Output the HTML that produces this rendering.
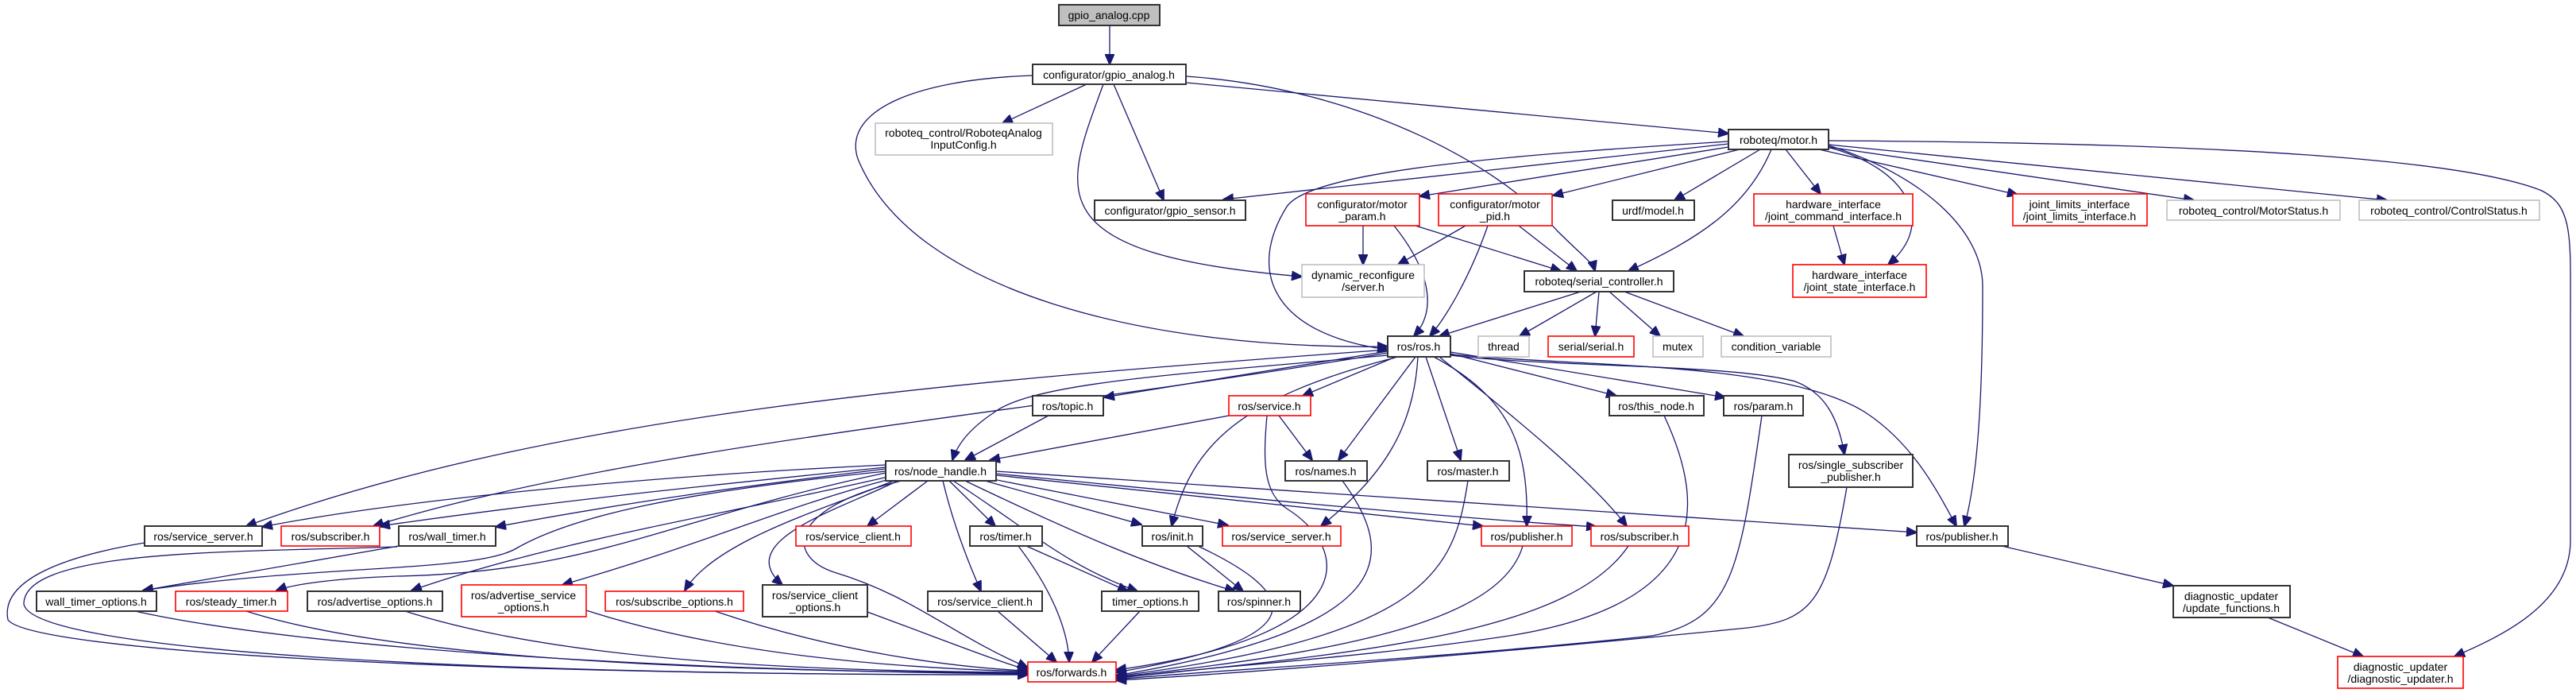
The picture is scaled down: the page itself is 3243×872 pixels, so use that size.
<!DOCTYPE html>
<html><head><meta charset="utf-8"><style>
html,body{margin:0;padding:0;background:#fff}
svg{display:block}
text{font-family:"Liberation Sans",sans-serif;font-size:14px;fill:#000;text-anchor:middle}
.b{fill:#fff;stroke:#333;stroke-width:2}
.r{fill:#fff;stroke:#f00;stroke-width:1.6}
.g{fill:#fff;stroke:#bfbfbf;stroke-width:1.6}
.e path{fill:none;stroke:#191970;stroke-width:1.3;marker-end:url(#ah)}
</style></head><body>
<svg width="3243" height="872" viewBox="0 0 3243 872" xmlns="http://www.w3.org/2000/svg">
<defs><marker id="ah" markerUnits="userSpaceOnUse" markerWidth="14" markerHeight="12" viewBox="0 0 14 12" refX="13" refY="6" orient="auto"><path d="M0,0 L14,6 L0,12 z" fill="#191970" stroke="#191970"/></marker></defs>
<g class="e">
<path d="M1397,32 L1397,81"/>
<path d="M1368,106 L1262,155"/>
<path d="M1402,106 L1465,252"/>
<path d="M1389,106 C1340,240 1300,320 1639,348"/>
<path d="M1300,95 C1150,100 1060,140 1080,200 C1150,370 1450,440 1747,436"/>
<path d="M1493,96 C1700,110 1880,200 1960,290 C1990,320 2005,330 2008,341"/>
<path d="M1493,104 L2176,168"/>
<path d="M2176,181 L1540,251"/>
<path d="M2176,185 L1787,247"/>
<path d="M2190,188 L1955,246"/>
<path d="M2216,188 L2108,252"/>
<path d="M2176,178 C1900,195 1650,215 1620,260 C1570,340 1600,420 1747,440"/>
<path d="M2230,188 C2200,260 2140,300 2050,341"/>
<path d="M2248,188 L2292,244"/>
<path d="M2300,185 C2400,210 2440,280 2377,333"/>
<path d="M2290,188 L2540,245"/>
<path d="M2302,185 L2762,252"/>
<path d="M2302,182 L3005,252"/>
<path d="M2302,183 C2420,220 2496,290 2496,360 C2496,500 2490,600 2473,662"/>
<path d="M2302,177 C2800,180 3100,200 3200,240 C3240,260 3236,300 3236,400 L3236,680 C3236,760 3150,800 3090,826"/>
<path d="M1716,284 L1716,333"/>
<path d="M1782,284 L1965,341"/>
<path d="M1755,284 C1800,340 1810,390 1780,423"/>
<path d="M1845,284 L1760,333"/>
<path d="M1912,284 L1985,341"/>
<path d="M1873,284 C1850,350 1820,400 1800,423"/>
<path d="M2308,284 L2322,333"/>
<path d="M1990,367 L1812,423"/>
<path d="M2010,367 L1913,423"/>
<path d="M2013,367 L2008,423"/>
<path d="M2026,367 L2090,423"/>
<path d="M2045,367 L2195,423"/>
<path d="M1747,440 C1200,480 700,520 310,662"/>
<path d="M1747,444 C1300,520 800,560 470,662"/>
<path d="M1747,447 C1500,470 1300,480 1250,520 C1220,540 1205,560 1199,579"/>
<path d="M1747,442 L1390,500"/>
<path d="M1320,523 L1215,579"/>
<path d="M1757,449 L1640,498"/>
<path d="M1547,523 L1246,579"/>
<path d="M1610,523 L1652,579"/>
<path d="M1595,523 C1590,580 1590,620 1620,640 C1700,690 1720,800 1405,843"/>
<path d="M1782,449 L1685,579"/>
<path d="M1760,449 C1560,500 1500,560 1475,662"/>
<path d="M1785,449 C1780,540 1740,600 1663,662"/>
<path d="M1795,449 L1839,579"/>
<path d="M1805,449 C1900,500 1925,560 1922,662"/>
<path d="M1812,449 C1900,520 2000,600 2048,662"/>
<path d="M1826,445 L2035,498"/>
<path d="M1826,443 L2172,500"/>
<path d="M1826,447 C1950,462 2180,458 2260,480 C2300,495 2315,530 2322,572"/>
<path d="M1826,446 C2000,462 2250,455 2350,520 C2410,560 2440,620 2463,662"/>
<path d="M1115,585 C800,600 500,630 330,663"/>
<path d="M1115,588 C900,610 700,630 478,662"/>
<path d="M1115,590 C950,610 800,630 624,663"/>
<path d="M1115,593 C850,620 720,650 650,690 C600,720 400,710 180,743"/>
<path d="M502,687 L180,743"/>
<path d="M1115,595 C850,650 750,720 500,725 C420,728 370,735 348,743"/>
<path d="M1118,600 C900,650 700,680 518,743"/>
<path d="M1120,603 C980,640 900,680 708,736"/>
<path d="M1125,605 C1040,640 900,680 862,743"/>
<path d="M1130,605 C1060,640 920,680 985,736"/>
<path d="M1135,605 C990,640 990,700 1050,720 C1150,750 1200,800 1294,840"/>
<path d="M1168,605 L1092,662"/>
<path d="M1187,605 C1200,660 1220,710 1235,744"/>
<path d="M1195,605 L1253,662"/>
<path d="M1200,605 C1300,670 1340,710 1432,744"/>
<path d="M1215,605 C1330,660 1440,710 1555,744"/>
<path d="M1240,605 L1437,660"/>
<path d="M1250,603 L1546,661"/>
<path d="M1254,598 L1867,662"/>
<path d="M1254,596 C1500,620 1800,650 2010,663"/>
<path d="M1254,593 L2413,670"/>
<path d="M1292,687 L1420,744"/>
<path d="M1282,687 C1330,750 1345,800 1346,833"/>
<path d="M1494,687 L1565,744"/>
<path d="M1508,687 C1620,740 1680,800 1405,846"/>
<path d="M1256,769 L1330,833"/>
<path d="M1435,769 L1375,833"/>
<path d="M170,769 C400,820 900,845 1294,848"/>
<path d="M310,769 C500,830 900,845 1294,847"/>
<path d="M510,769 C700,830 1000,845 1294,846"/>
<path d="M738,768 C900,820 1100,840 1294,845"/>
<path d="M900,769 C1050,820 1200,840 1294,844"/>
<path d="M1092,770 C1200,810 1250,830 1294,843"/>
<path d="M182,683 C80,700 0,730 10,780 C40,820 600,850 1294,849"/>
<path d="M500,688 C300,695 30,690 30,760 C40,820 600,850 1294,849"/>
<path d="M1690,605 C1760,700 1760,790 1405,850"/>
<path d="M1848,605 C1830,720 1800,800 1405,851"/>
<path d="M1917,687 C1890,780 1700,820 1405,852"/>
<path d="M2050,687 C1980,790 1750,820 1405,853"/>
<path d="M2095,523 C2150,640 2150,760 1900,800 C1700,830 1500,840 1405,854"/>
<path d="M2218,523 C2190,720 2180,780 2080,800 C1800,830 1500,845 1405,855"/>
<path d="M2325,613 C2300,760 2280,780 2200,790 C1900,820 1600,845 1405,856"/>
<path d="M2520,687 L2736,737"/>
<path d="M2855,777 L2975,826"/>
</g>
<g>
<rect x="1333" y="6" width="127" height="26" fill="#bfbfbf" stroke="#333" stroke-width="2"/><text x="1396" y="24">gpio_analog.cpp</text>
<rect class="b" x="1300" y="81" width="193" height="25"/><text x="1396" y="99">configurator/gpio_analog.h</text>
<rect class="g" x="1102" y="155" width="223" height="40"/><text x="1213" y="172">roboteq_control/RoboteqAnalog</text><text x="1213" y="187">InputConfig.h</text>
<rect class="b" x="1378" y="252" width="190" height="25"/><text x="1473" y="270">configurator/gpio_sensor.h</text>
<rect class="r" x="1644" y="244" width="143" height="40"/><text x="1715" y="262">configurator/motor</text><text x="1715" y="277">_param.h</text>
<rect class="r" x="1811" y="244" width="143" height="40"/><text x="1882" y="262">configurator/motor</text><text x="1882" y="277">_pid.h</text>
<rect class="b" x="2030" y="252" width="103" height="25"/><text x="2081" y="270">urdf/model.h</text>
<rect class="g" x="1639" y="333" width="154" height="41"/><text x="1716" y="351">dynamic_reconfigure</text><text x="1716" y="366">/server.h</text>
<rect class="b" x="1919" y="341" width="188" height="26"/><text x="2013" y="359">roboteq/serial_controller.h</text>
<rect class="b" x="2176" y="163" width="126" height="25"/><text x="2239" y="181">roboteq/motor.h</text>
<rect class="r" x="2208" y="244" width="200" height="40"/><text x="2308" y="262">hardware_interface</text><text x="2308" y="277">/joint_command_interface.h</text>
<rect class="r" x="2257" y="333" width="168" height="41"/><text x="2341" y="351">hardware_interface</text><text x="2341" y="366">/joint_state_interface.h</text>
<rect class="r" x="2534" y="244" width="169" height="40"/><text x="2618" y="262">joint_limits_interface</text><text x="2618" y="277">/joint_limits_interface.h</text>
<rect class="g" x="2728" y="252" width="218" height="25"/><text x="2837" y="270">roboteq_control/MotorStatus.h</text>
<rect class="g" x="2970" y="252" width="227" height="25"/><text x="3083" y="270">roboteq_control/ControlStatus.h</text>
<rect class="b" x="1747" y="423" width="79" height="26"/><text x="1786" y="441">ros/ros.h</text>
<rect class="g" x="1861" y="423" width="64" height="26"/><text x="1893" y="441">thread</text>
<rect class="r" x="1949" y="423" width="108" height="26"/><text x="2003" y="441">serial/serial.h</text>
<rect class="g" x="2081" y="423" width="63" height="26"/><text x="2112" y="441">mutex</text>
<rect class="g" x="2167" y="423" width="138" height="26"/><text x="2236" y="441">condition_variable</text>
<rect class="b" x="1300" y="498" width="89" height="25"/><text x="1344" y="516">ros/topic.h</text>
<rect class="r" x="1547" y="498" width="103" height="25"/><text x="1598" y="516">ros/service.h</text>
<rect class="b" x="2026" y="498" width="119" height="25"/><text x="2085" y="516">ros/this_node.h</text>
<rect class="b" x="2170" y="498" width="100" height="25"/><text x="2220" y="516">ros/param.h</text>
<rect class="b" x="1115" y="580" width="139" height="25"/><text x="1184" y="598">ros/node_handle.h</text>
<rect class="b" x="1618" y="580" width="103" height="25"/><text x="1669" y="598">ros/names.h</text>
<rect class="b" x="1797" y="580" width="103" height="25"/><text x="1848" y="598">ros/master.h</text>
<rect class="b" x="2252" y="572" width="156" height="41"/><text x="2330" y="590">ros/single_subscriber</text><text x="2330" y="605">_publisher.h</text>
<rect class="b" x="182" y="662" width="148" height="25"/><text x="256" y="680">ros/service_server.h</text>
<rect class="r" x="354" y="662" width="124" height="25"/><text x="416" y="680">ros/subscriber.h</text>
<rect class="b" x="502" y="662" width="122" height="25"/><text x="563" y="680">ros/wall_timer.h</text>
<rect class="r" x="1002" y="662" width="145" height="25"/><text x="1074" y="680">ros/service_client.h</text>
<rect class="b" x="1221" y="662" width="91" height="25"/><text x="1266" y="680">ros/timer.h</text>
<rect class="b" x="1438" y="662" width="76" height="25"/><text x="1476" y="680">ros/init.h</text>
<rect class="r" x="1539" y="662" width="149" height="25"/><text x="1613" y="680">ros/service_server.h</text>
<rect class="r" x="1865" y="662" width="114" height="25"/><text x="1922" y="680">ros/publisher.h</text>
<rect class="r" x="2003" y="662" width="123" height="25"/><text x="2064" y="680">ros/subscriber.h</text>
<rect class="b" x="2413" y="662" width="115" height="25"/><text x="2470" y="680">ros/publisher.h</text>
<rect class="b" x="46" y="744" width="151" height="25"/><text x="121" y="762">wall_timer_options.h</text>
<rect class="r" x="221" y="744" width="141" height="25"/><text x="291" y="762">ros/steady_timer.h</text>
<rect class="b" x="387" y="744" width="170" height="25"/><text x="472" y="762">ros/advertise_options.h</text>
<rect class="r" x="581" y="736" width="157" height="40"/><text x="659" y="754">ros/advertise_service</text><text x="659" y="769">_options.h</text>
<rect class="r" x="762" y="744" width="174" height="25"/><text x="849" y="762">ros/subscribe_options.h</text>
<rect class="b" x="960" y="736" width="132" height="40"/><text x="1026" y="754">ros/service_client</text><text x="1026" y="769">_options.h</text>
<rect class="b" x="1168" y="744" width="144" height="25"/><text x="1240" y="762">ros/service_client.h</text>
<rect class="b" x="1387" y="744" width="122" height="25"/><text x="1448" y="762">timer_options.h</text>
<rect class="b" x="1534" y="744" width="103" height="25"/><text x="1585" y="762">ros/spinner.h</text>
<rect class="b" x="2736" y="737" width="147" height="40"/><text x="2809" y="755">diagnostic_updater</text><text x="2809" y="770">/update_functions.h</text>
<rect class="r" x="1294" y="833" width="111" height="25"/><text x="1349" y="851">ros/forwards.h</text>
<rect class="r" x="2943" y="826" width="158" height="40"/><text x="3022" y="844">diagnostic_updater</text><text x="3022" y="859">/diagnostic_updater.h</text>
</g>
</svg>
</body></html>
